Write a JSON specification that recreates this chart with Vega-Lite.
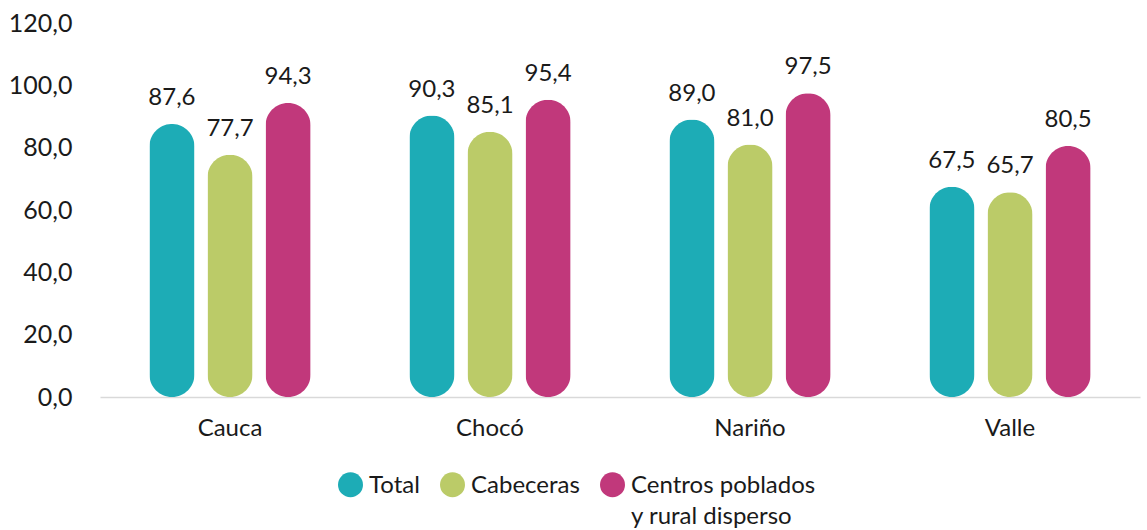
{
  "$schema": "https://vega.github.io/schema/vega-lite/v6.json",
  "width": 1040,
  "height": 374,
  "autosize": {"type": "none"},
  "padding": {"left": 100, "top": 23, "right": 7, "bottom": 133},
  "background": "white",
  "config": {
    "view": {"stroke": null},
    "font": "Lato",
    "locale": {"number": {"decimal": ",", "thousands": ".", "grouping": [3], "currency": ["$", ""]}}
  },
  "data": {
    "values": [
      {"dep": "Cauca", "serie": "Total", "valor": 87.6},
      {"dep": "Cauca", "serie": "Cabeceras", "valor": 77.7},
      {"dep": "Cauca", "serie": "Centros poblados y rural disperso", "valor": 94.3},
      {"dep": "Chocó", "serie": "Total", "valor": 90.3},
      {"dep": "Chocó", "serie": "Cabeceras", "valor": 85.1},
      {"dep": "Chocó", "serie": "Centros poblados y rural disperso", "valor": 95.4},
      {"dep": "Nariño", "serie": "Total", "valor": 89.0},
      {"dep": "Nariño", "serie": "Cabeceras", "valor": 81.0},
      {"dep": "Nariño", "serie": "Centros poblados y rural disperso", "valor": 97.5},
      {"dep": "Valle", "serie": "Total", "valor": 67.5},
      {"dep": "Valle", "serie": "Cabeceras", "valor": 65.7},
      {"dep": "Valle", "serie": "Centros poblados y rural disperso", "valor": 80.5}
    ]
  },
  "encoding": {
    "x": {
      "field": "dep", "type": "nominal", "sort": null, "title": null,
      "scale": {"paddingInner": 0.33, "paddingOuter": 0.165},
      "axis": {"labelAngle": 0, "labelFontSize": 24, "labelColor": "#1a1a1a", "labelPadding": 19, "ticks": false, "domainColor": "#d9d9d9", "domainWidth": 1.5}
    },
    "xOffset": {
      "field": "serie", "type": "nominal", "sort": null,
      "scale": {"paddingInner": 0.224, "paddingOuter": 0.112}
    },
    "y": {
      "field": "valor", "type": "quantitative", "title": null,
      "scale": {"domain": [0, 120]},
      "axis": {"values": [0, 20, 40, 60, 80, 100, 120], "format": ".1f", "grid": false, "ticks": false, "domain": false, "labelFontSize": 25, "labelColor": "#1a1a1a", "labelPadding": 28}
    }
  },
  "layer": [
    {
      "mark": {"type": "bar", "cornerRadius": 22.5},
      "encoding": {
        "color": {
          "field": "serie", "type": "nominal", "sort": null, "title": null,
          "scale": {"domain": ["Total", "Cabeceras", "Centros poblados y rural disperso"], "range": ["#1DACB6", "#BBCB68", "#C1387B"]},
          "legend": {
            "orient": "none", "legendX": 237, "legendY": 448, "padding": 0,
            "direction": "horizontal", "symbolType": "circle", "symbolSize": 625,
            "labelFontSize": 24, "labelColor": "#1a1a1a", "labelLimit": 400, "columnPadding": 19,
            "labelOffset": 5, "labelBaseline": "alphabetic",
            "encode": {"labels": {"update": {"dy": {"value": 8}, "lineHeight": {"value": 31}}}},
            "labelExpr": "datum.label == 'Centros poblados y rural disperso' ? ['Centros poblados', 'y rural disperso'] : [datum.label, ' ']"
          }
        }
      }
    },
    {
      "mark": {"type": "text", "dy": -26, "fontSize": 24, "color": "#1a1a1a"},
      "encoding": {
        "text": {"field": "valor", "type": "quantitative", "format": ".1f"}
      }
    }
  ]
}
